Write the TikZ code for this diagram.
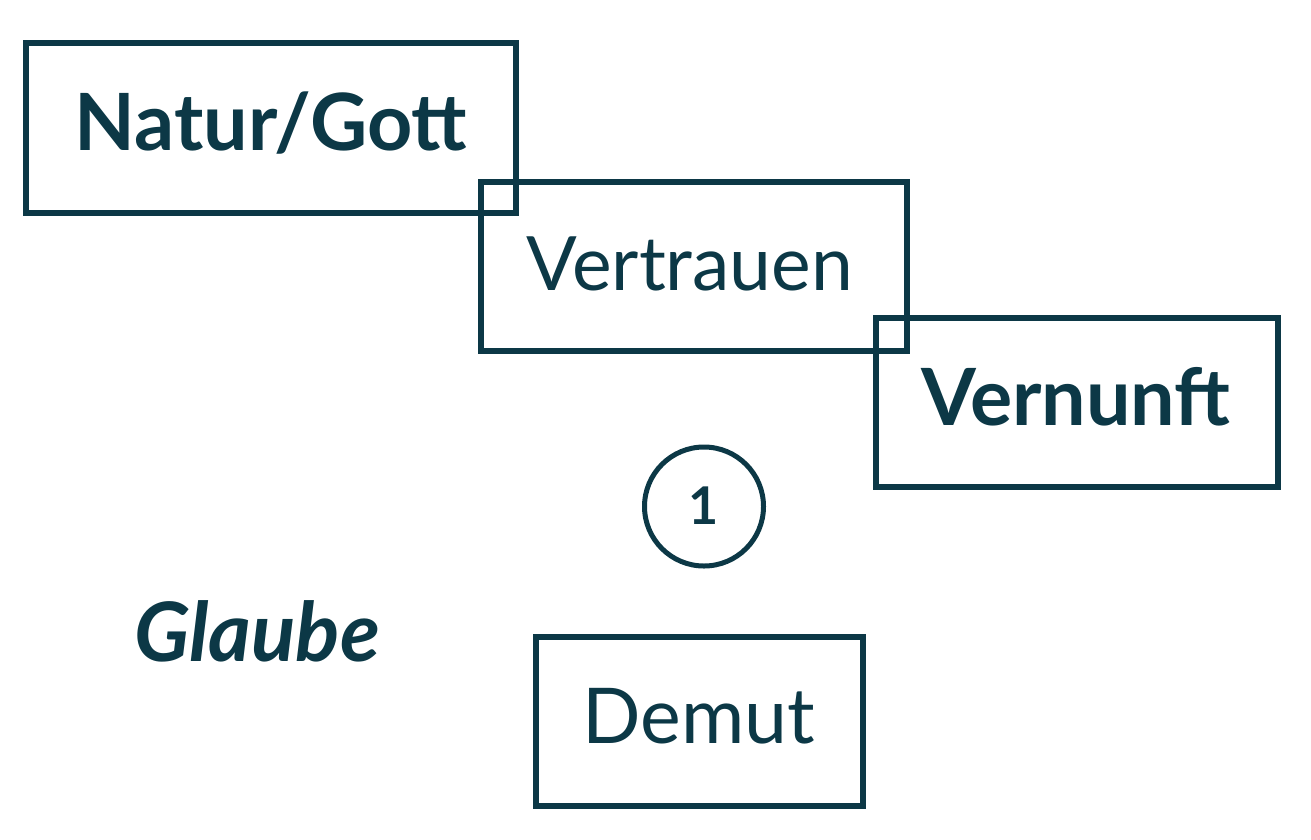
\documentclass[tikz,border=0pt]{standalone}
\usepackage{fontspec}
\setmainfont{Lato}
\definecolor{ink}{RGB}{12,56,70}
\begin{document}
\begin{tikzpicture}[x=1pt,y=-1pt,
  box/.style={draw=ink,line width=5.5pt,rectangle,inner sep=0pt,text=ink},
  lbl/.style={text=ink,inner sep=0pt,anchor=base}]
\useasboundingbox (0,0) rectangle (1311,839);
\node[box,minimum width=490pt,minimum height=170pt] (natur) at (271,128) {};
\node[box,minimum width=426pt,minimum height=169pt] (vertrauen) at (694,266.5) {};
\node[box,minimum width=402pt,minimum height=169pt] (vernunft) at (1077,402.5) {};
\node[box,minimum width=327pt,minimum height=169pt] (demut) at (699.5,721.5) {};
\node[draw=ink,line width=5pt,circle,minimum size=119pt,inner sep=0pt] (one) at (704,506.5) {};
\node[lbl,font=\fontsize{79}{84}\selectfont\bfseries] (tnatur) at (271,150) {Natur/Gott};
\node[lbl,font=\fontsize{75}{80}\selectfont] (tvertrauen) at (690,290) {Vertrauen};
\node[lbl,font=\fontsize{79}{84}\selectfont\bfseries] (tvernunft) at (1076,425) {Vernunft};
\node[lbl,font=\fontsize{77}{82}\selectfont] (tdemut) at (699,743) {Demut};
\node[lbl,font=\fontsize{52}{56}\selectfont\bfseries] (tone) at (704,524) {1};
\node[lbl,font=\fontsize{82}{86}\selectfont\bfseries\itshape] (glaube) at (257,661) {Glaube};
\end{tikzpicture}
\end{document}
